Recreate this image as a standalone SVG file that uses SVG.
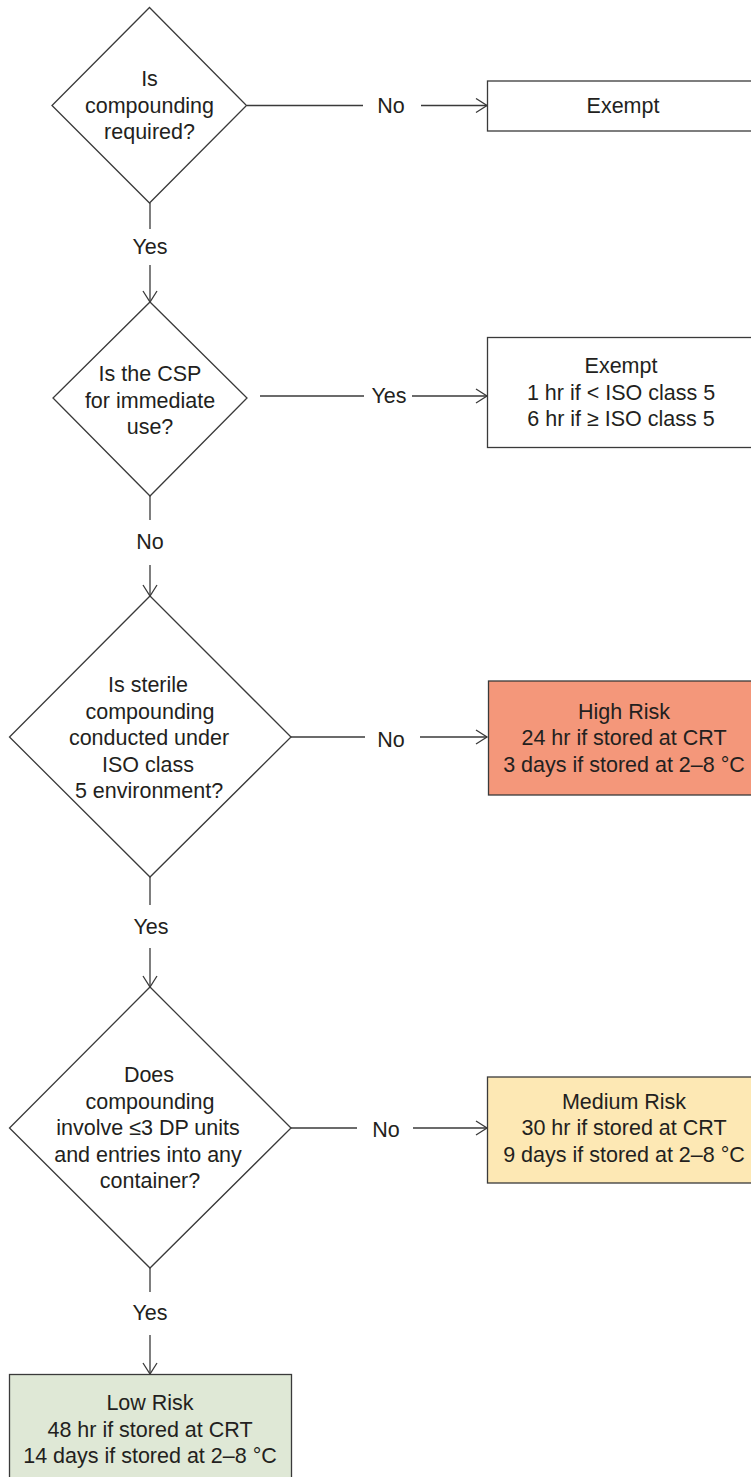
<svg xmlns="http://www.w3.org/2000/svg" width="751" height="1477" viewBox="0 0 751 1477">
<style>
.shape{stroke:#3a3a3a;stroke-width:1.3;fill:#fff}
.t{font-family:"Liberation Sans",Arial,sans-serif;font-size:21.5px;fill:#231f20;text-anchor:middle;dominant-baseline:central}
.c{stroke:#3a3a3a;stroke-width:1.3;fill:none}
</style>
<defs>
<marker id="arr" markerWidth="14" markerHeight="16" refX="12" refY="8" orient="auto" markerUnits="userSpaceOnUse">
<path d="M1,1 L12,8 L1,15" fill="none" stroke="#3a3a3a" stroke-width="1.3"/>
</marker>
</defs>
<rect width="751" height="1477" fill="#fff"/>
<g id="connectors">
<line class="c" x1="247" y1="105.5" x2="363" y2="105.5"/>
<text class="t" x="391" y="105.5">No</text>
<line class="c" x1="421" y1="105.5" x2="487" y2="105.5" marker-end="url(#arr)"/>
<line class="c" x1="150" y1="203" x2="150" y2="229"/>
<text class="t" x="150" y="247">Yes</text>
<line class="c" x1="150" y1="265" x2="150" y2="302" marker-end="url(#arr)"/>
<line class="c" x1="260" y1="396" x2="364" y2="396"/>
<text class="t" x="389" y="396">Yes</text>
<line class="c" x1="412" y1="396" x2="487" y2="396" marker-end="url(#arr)"/>
<line class="c" x1="150" y1="496" x2="150" y2="520"/>
<text class="t" x="150" y="542">No</text>
<line class="c" x1="150" y1="565" x2="150" y2="596" marker-end="url(#arr)"/>
<line class="c" x1="291" y1="737" x2="365" y2="737"/>
<text class="t" x="391" y="740">No</text>
<line class="c" x1="420" y1="737" x2="487" y2="737" marker-end="url(#arr)"/>
<line class="c" x1="150" y1="877" x2="150" y2="905"/>
<text class="t" x="151" y="927">Yes</text>
<line class="c" x1="150" y1="948" x2="150" y2="987" marker-end="url(#arr)"/>
<line class="c" x1="291" y1="1128" x2="357" y2="1128"/>
<text class="t" x="386" y="1130">No</text>
<line class="c" x1="413" y1="1128" x2="487" y2="1128" marker-end="url(#arr)"/>
<line class="c" x1="150" y1="1268" x2="150" y2="1292"/>
<text class="t" x="150" y="1313">Yes</text>
<line class="c" x1="150" y1="1335" x2="150" y2="1374" marker-end="url(#arr)"/>
</g>
<g id="d1">
<polygon class="shape" points="149.5,7.5 246.5,105.5 149.5,203 52,105.5"/>
<text class="t" x="149.5" y="78.5">Is</text>
<text class="t" x="149.5" y="105.5">compounding</text>
<text class="t" x="149.5" y="132">required?</text>
</g>
<g id="exempt1">
<rect class="shape" x="487.5" y="81" width="280" height="50"/>
<text class="t" x="623" y="105.5">Exempt</text>
</g>
<g id="d2">
<polygon class="shape" points="150,302 247,398 150,496 53,398"/>
<text class="t" x="150" y="374">Is the CSP</text>
<text class="t" x="150" y="400.5">for immediate</text>
<text class="t" x="150" y="427">use?</text>
</g>
<g id="exempt2">
<rect class="shape" x="487.5" y="337.5" width="280" height="110"/>
<text class="t" x="621" y="366">Exempt</text>
<text class="t" x="621" y="392.5">1 hr if &lt; ISO class 5</text>
<text class="t" x="621" y="419">6 hr if ≥ ISO class 5</text>
</g>
<g id="d3">
<polygon class="shape" points="150,596 291,737 150,877 9.5,737"/>
<text class="t" x="148" y="685">Is sterile</text>
<text class="t" x="150" y="711.5">compounding</text>
<text class="t" x="149" y="738">conducted under</text>
<text class="t" x="148" y="764.5">ISO class</text>
<text class="t" x="149" y="791">5 environment?</text>
</g>
<g id="high">
<rect class="shape" x="488.5" y="681" width="280" height="114" style="fill:#f4977a"/>
<text class="t" x="624" y="711.5">High Risk</text>
<text class="t" x="624" y="738">24 hr if stored at CRT</text>
<text class="t" x="624" y="764.5">3 days if stored at 2–8 °C</text>
</g>
<g id="d4">
<polygon class="shape" points="150,987 291,1128 150,1268 9.5,1128"/>
<text class="t" x="149" y="1075">Does</text>
<text class="t" x="150" y="1101.5">compounding</text>
<text class="t" x="148" y="1128">involve ≤3 DP units</text>
<text class="t" x="148" y="1154.5">and entries into any</text>
<text class="t" x="150" y="1181">container?</text>
</g>
<g id="medium">
<rect class="shape" x="487.5" y="1077" width="280" height="106" style="fill:#fde8b4"/>
<text class="t" x="624" y="1101.5">Medium Risk</text>
<text class="t" x="624" y="1128">30 hr if stored at CRT</text>
<text class="t" x="624" y="1154.5">9 days if stored at 2–8 °C</text>
</g>
<g id="low">
<rect class="shape" x="9.5" y="1374.5" width="282" height="120" style="fill:#dfe8d6"/>
<text class="t" x="150" y="1403">Low Risk</text>
<text class="t" x="150" y="1429.5">48 hr if stored at CRT</text>
<text class="t" x="150" y="1456">14 days if stored at 2–8 °C</text>
</g>
</svg>
